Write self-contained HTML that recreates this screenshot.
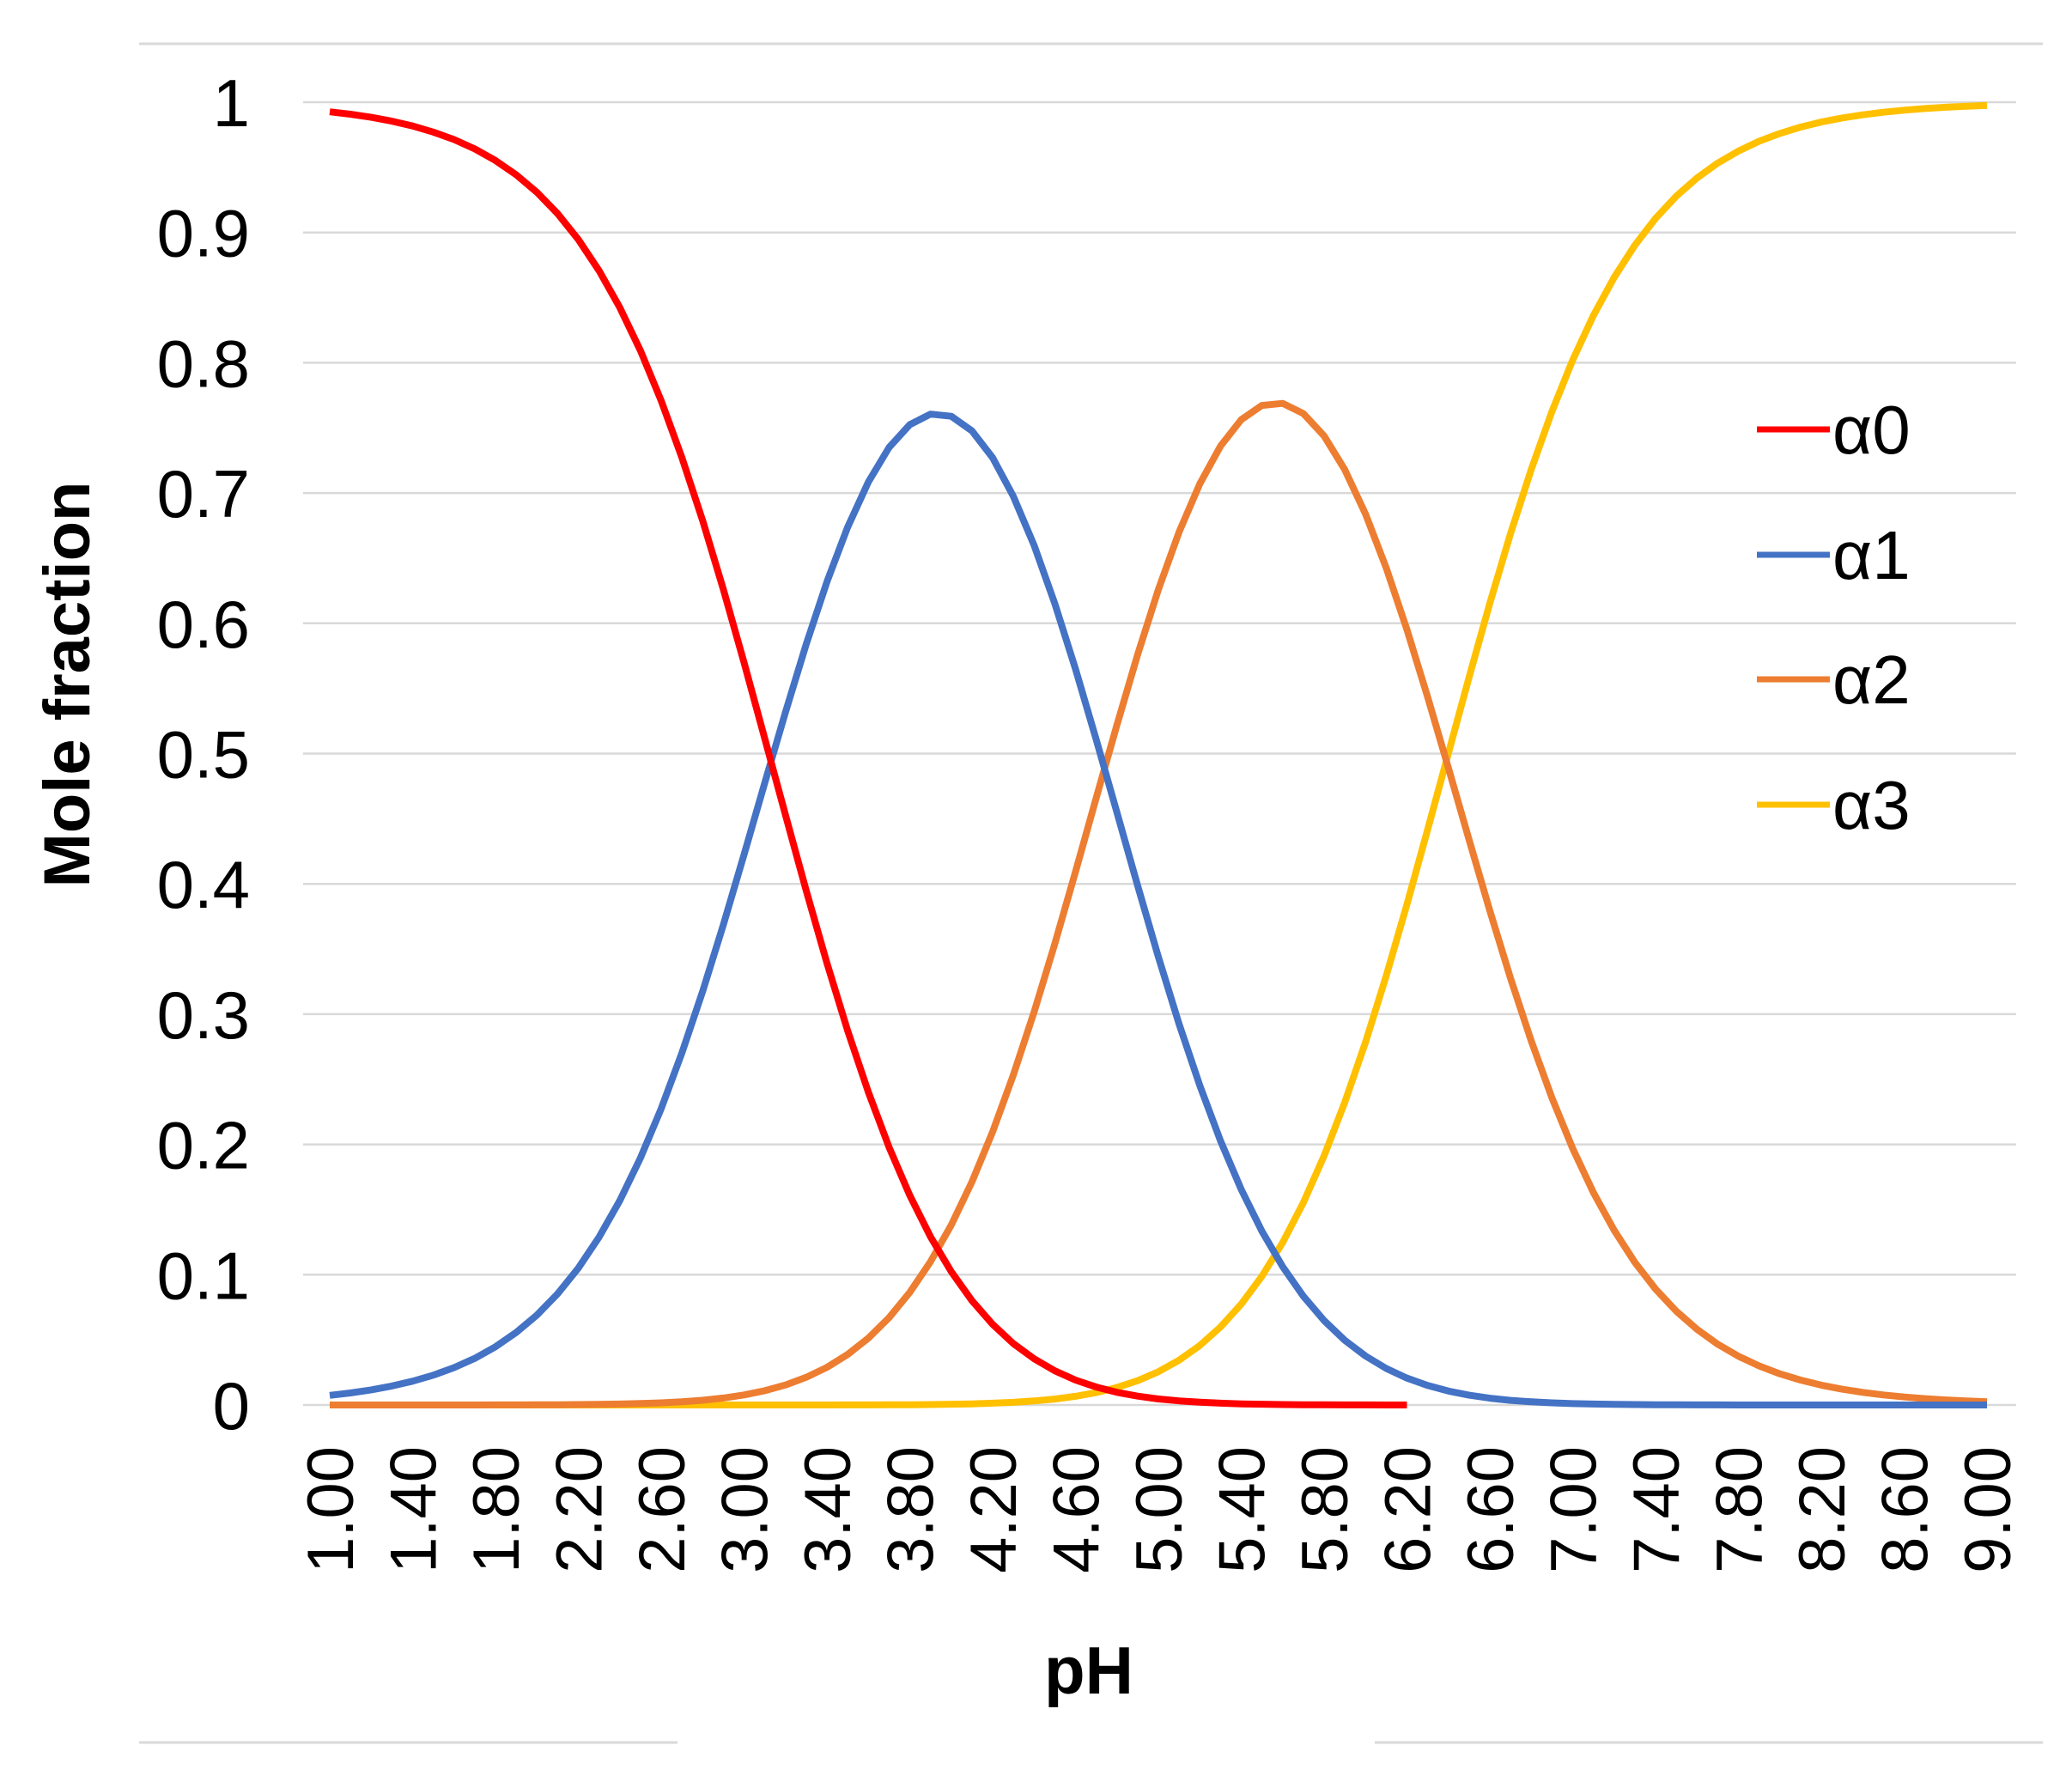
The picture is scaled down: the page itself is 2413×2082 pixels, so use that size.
<!DOCTYPE html>
<html><head><meta charset="utf-8"><style>
html,body{margin:0;padding:0;background:#fff;}
svg{display:block;}
text{font-family:"Liberation Sans",Arial,sans-serif;fill:#000;}
</style></head><body>
<svg id="s" width="2413" height="2082" viewBox="0 0 2413 2082" xmlns="http://www.w3.org/2000/svg">
<line x1="162" y1="51" x2="2379" y2="51" stroke="#d9d9d9" stroke-width="3"/>
<line x1="162" y1="2029" x2="789" y2="2029" stroke="#d9d9d9" stroke-width="3"/>
<line x1="1601" y1="2029" x2="2379" y2="2029" stroke="#d9d9d9" stroke-width="3"/>
<g id="grid" stroke="#d9d9d9" stroke-width="2.5"></g>
<g id="ylab" font-size="78" text-anchor="end"></g>
<g id="xlab" font-size="76"></g>
<text x="0" y="0" font-size="76" font-weight="bold" text-anchor="middle" transform="translate(104,797) rotate(-90)">Mole fraction</text>
<text x="1268" y="1972" font-size="78" font-weight="bold" text-anchor="middle">pH</text>
<g id="curves" fill="none" stroke-width="8" stroke-linejoin="round"></g>
<g font-size="80">
<line x1="2046" y1="500" x2="2131" y2="500" stroke="#FF0000" stroke-width="7"/>
<text x="2134" y="528">α0</text>
<line x1="2046" y1="646" x2="2131" y2="646" stroke="#4472C4" stroke-width="7"/>
<text x="2134" y="674">α1</text>
<line x1="2046" y1="791" x2="2131" y2="791" stroke="#ED7D31" stroke-width="7"/>
<text x="2134" y="819">α2</text>
<line x1="2046" y1="937" x2="2131" y2="937" stroke="#FFC000" stroke-width="7"/>
<text x="2134" y="965">α3</text>
</g>
</svg>
<script>
var NS="http://www.w3.org/2000/svg";
function el(p,t,a,txt){var e=document.createElementNS(NS,t);for(var k in a)e.setAttribute(k,a[k]);if(txt)e.textContent=txt;document.getElementById(p).appendChild(e);}
var y0=1636,y1=119,x0=384,x1=2314;
function Y(v){return y0+(y1-y0)*v;}
function X(p){return x0+(x1-x0)*(p-1)/8;}
for(var i=0;i<=10;i++){
  el("grid","line",{x1:353,x2:2348,y1:Y(i/10),y2:Y(i/10)});
  el("ylab","text",{x:291,y:Y(i/10)+28},i==0?"0":(i==10?"1":(i/10).toFixed(1)));
}
for(var i=0;i<=20;i++){
  var p=1+i*0.4,x=X(p);
  el("xlab","text",{x:0,y:0,"text-anchor":"end",transform:"translate("+(x+27)+",1684) rotate(-90)"},p.toFixed(2));
}
var k=[3.13,4.74,6.39],cols=["#FF0000","#4472C4","#ED7D31","#FFC000"];
var d=["","","",""];
for(var j=0;j<=80;j++){
  var p=1+j*0.1,h=Math.pow(10,-p);
  var K1=Math.pow(10,-k[0]),K2=Math.pow(10,-k[1]),K3=Math.pow(10,-k[2]);
  var t=[h*h*h,h*h*K1,h*K1*K2,K1*K2*K3],s=t[0]+t[1]+t[2]+t[3];
  for(var m=0;m<4;m++){
    if(m==0&&p>6.21)continue;
    d[m]+=(j==0?"M":"L")+X(p).toFixed(1)+","+Y(t[m]/s).toFixed(1)+" ";
  }
}
[3,2,1,0].forEach(function(m){el("curves","path",{d:d[m],stroke:cols[m]});});
</script>
</body></html>
